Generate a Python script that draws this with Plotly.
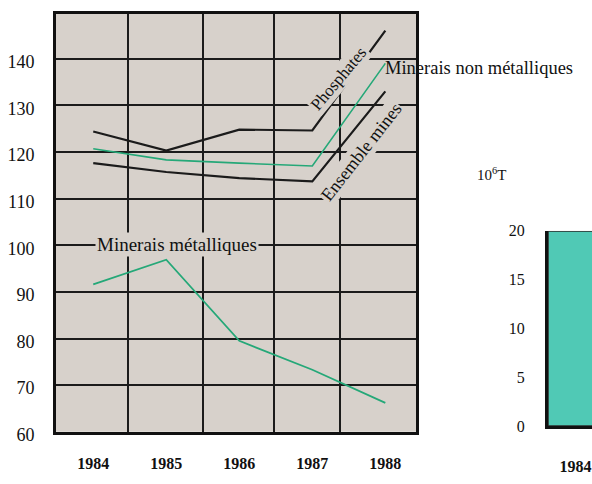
import plotly.graph_objects as go

# ---- data (left chart: indices) ----
years = [1984, 1985, 1986, 1987, 1988]
phosphates = [124.4, 120.3, 124.8, 124.6, 146.0]
non_metalliques = [120.7, 118.3, 117.6, 117.0, 139.0]
ensemble_mines = [117.6, 115.7, 114.4, 113.7, 133.0]
metalliques = [91.6, 96.9, 79.5, 73.3, 66.2]
y_ticks = [60, 70, 80, 90, 100, 110, 120, 130, 140]
grid_x = [1984.47, 1985.5, 1986.47, 1987.38]

# ---- data (right chart, cut off at the page edge) ----
bar_years = ["1984"]
bar_values = [20]
bar_ticks = [0, 5, 10, 15, 20]

W, H = 592, 484
def px(x):
    return x / W
def py(y):
    return 1 - y / H

SERIF = "Liberation Serif"
BG = "#d7d1cb"
BLACK = "#1b1b1b"
GREEN = "#25a878"

fig = go.Figure()
# invisible carrier so the grid axis (x) is drawn
fig.add_trace(go.Scatter(x=grid_x, y=[None] * len(grid_x), mode="lines",
                         xaxis="x", yaxis="y", hoverinfo="skip"))
for vals, col, w in [(phosphates, BLACK, 2.2), (ensemble_mines, BLACK, 2.2),
                     (non_metalliques, GREEN, 1.6), (metalliques, GREEN, 1.8)]:
    fig.add_trace(go.Scatter(x=years, y=vals, mode="lines", xaxis="x2", yaxis="y",
                             line=dict(color=col, width=w), hoverinfo="skip"))

fig.add_trace(go.Bar(x=[0], y=bar_values, width=[1], xaxis="x3", yaxis="y3",
                     hoverinfo="skip",
                     marker=dict(color="#50c9b5", line=dict(color="#2a2a2a", width=1.5))))

xr = [1983.49, 1988.42]
yr = [60, 149.64]
fig.update_layout(
    width=W, height=H, margin=dict(l=0, r=0, t=0, b=0),
    paper_bgcolor="white", plot_bgcolor=BG, showlegend=False,
    font=dict(family=SERIF, color="#111", size=16),
    xaxis=dict(domain=[px(56), px(416)], range=xr, tickvals=grid_x,
               showticklabels=False, ticks="", showgrid=True, gridcolor=BLACK,
               gridwidth=2, showline=True, linecolor="#111", linewidth=3,
               mirror=True, zeroline=False, anchor="y"),
    xaxis2=dict(overlaying="x", domain=[px(56), px(416)], range=xr, anchor="y",
                tickvals=years, ticktext=[str(y) for y in years], showgrid=False,
                zeroline=False, showline=False, ticks="",
                tickfont=dict(family=SERIF, size=16, color="#111", weight="bold"),
                ticklabelstandoff=20),
    yaxis=dict(domain=[py(443), py(6)], range=yr, tickvals=y_ticks,
               showgrid=True, gridcolor=BLACK, gridwidth=2, showline=True,
               linecolor="#111", linewidth=3, mirror=True, zeroline=False,
               ticks="", ticklabelstandoff=15, ticklabelshift=3,
               tickfont=dict(family=SERIF, size=18, color="#111")),
    xaxis3=dict(domain=[px(548), 1], range=[-0.5, 0.03], anchor="y3",
                tickvals=[0], ticktext=bar_years, ticklabelshift=-14,
                showgrid=False, zeroline=False, showline=True, linecolor="#111",
                linewidth=3, ticks="", ticklabelstandoff=24,
                tickfont=dict(family=SERIF, size=16, color="#111", weight="bold")),
    yaxis3=dict(domain=[py(437), py(233)], range=[0, 20], anchor="x3",
                tickvals=bar_ticks, showgrid=False, zeroline=False,
                showline=True, linecolor="#111", linewidth=3, ticks="",
                ticklabelstandoff=17,
                tickfont=dict(family=SERIF, size=16, color="#111")),
)

fig.add_annotation(x=1985.15, y=100.2, xref="x", yref="y", text="Minerais métalliques",
                   showarrow=False, bgcolor=BG, borderpad=1,
                   font=dict(family=SERIF, size=19, color="#111"))
fig.add_annotation(x=1987.36, y=135.8, xref="x", yref="y", text="Phosphates",
                   showarrow=False, bgcolor=BG, textangle=-50, borderpad=1,
                   font=dict(family=SERIF, size=17, color="#111"))
fig.add_annotation(x=1987.67, y=120.0, xref="x", yref="y", text="Ensemble mines",
                   showarrow=False, bgcolor=BG, textangle=-52, borderpad=1,
                   font=dict(family=SERIF, size=18, color="#111"))
fig.add_annotation(x=px(383), y=py(50), xref="paper", yref="paper",
                   xanchor="left", text="Minerais non métalliques", showarrow=False,
                   font=dict(family=SERIF, size=18.5, color="#111"))
fig.add_annotation(x=px(508), y=py(174), xref="paper", yref="paper",
                   text="10<sup>6</sup>T", showarrow=False,
                   font=dict(family=SERIF, size=15, color="#111"))

POST = (
    "document.documentElement.style.overflow='hidden';"
    "document.body.style.margin='0';"
    "document.body.style.overflow='hidden';"
    "var gd=document.getElementById('{plot_id}');"
    "gd.style.position='fixed';gd.style.top='0px';gd.style.left='0px';"
)

fig.write_html(
    "out.html",
    config={"responsive": False, "displayModeBar": False},
    post_script=POST,
)
